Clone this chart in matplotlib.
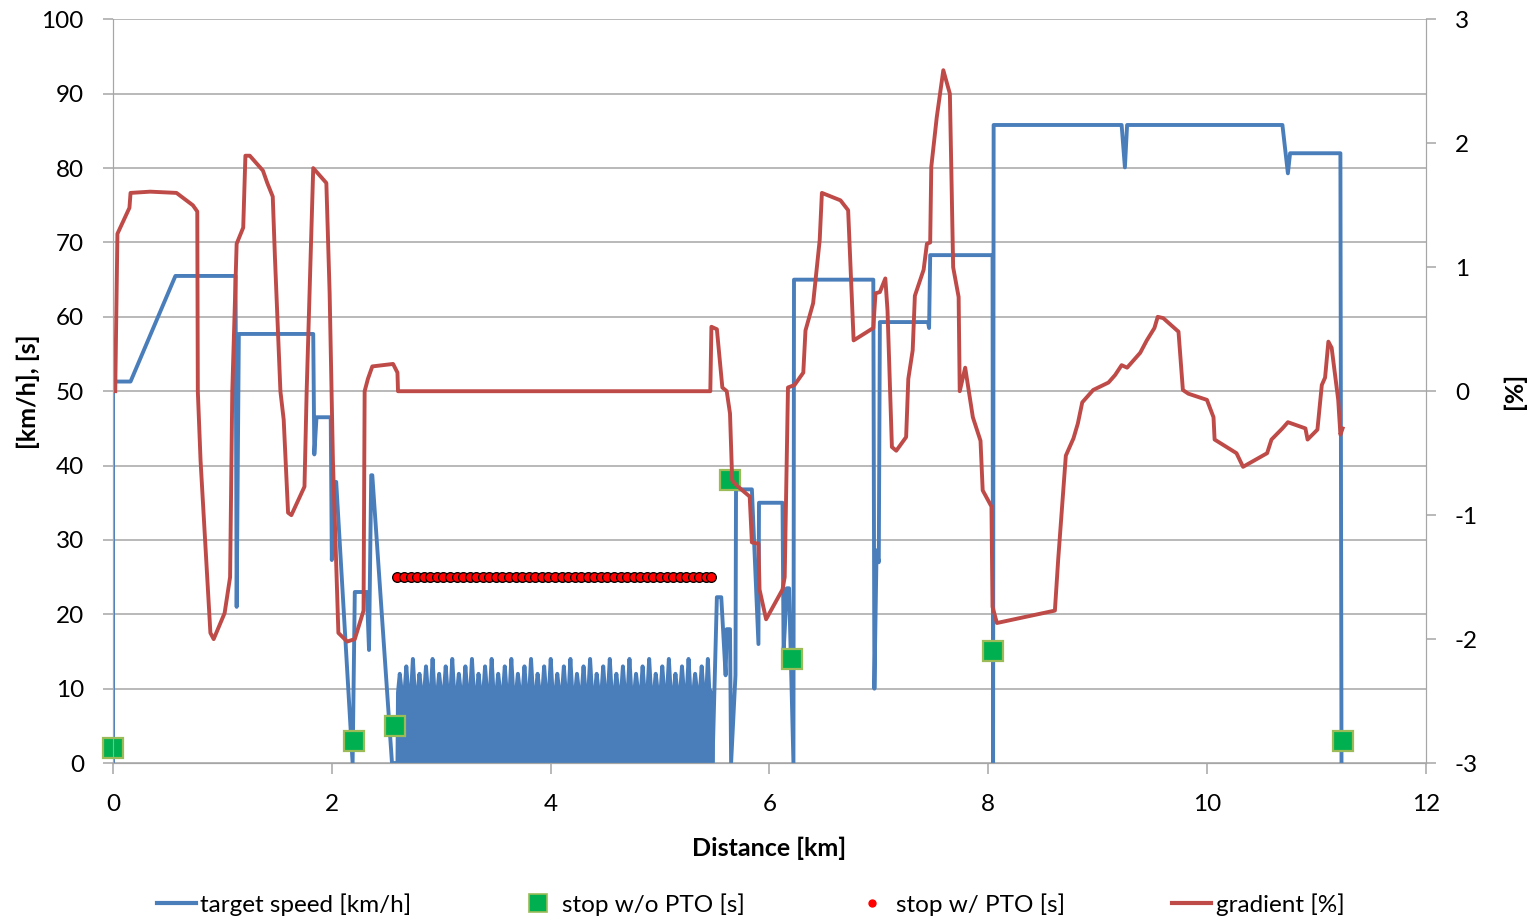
import matplotlib.pyplot as plt
from matplotlib.lines import Line2D
import numpy as np

plt.rcParams['font.family'] = ['Lato', 'DejaVu Sans']
plt.rcParams['axes.unicode_minus'] = False

# target speed [km/h] outside the stop-and-go section
speed_x_a = [0.0, 0.0, 0.16, 0.57, 1.12, 1.13, 1.15, 1.83, 1.84, 1.86, 1.99, 2.00, 2.02, 2.04,
             2.19, 2.21, 2.32, 2.34, 2.36, 2.37, 2.55, 2.60]
speed_v_a = [0, 51.3, 51.3, 65.5, 65.5, 21, 57.7, 57.7, 41.5, 46.5, 46.5, 27.3, 37.8, 37.8,
             0, 23, 23, 15.2, 38.7, 38.7, 0, 0]
speed_x_c = [5.48, 5.52, 5.56, 5.60, 5.61, 5.64, 5.65, 5.69, 5.695, 5.84, 5.90, 5.905, 6.12,
             6.13, 6.16, 6.18, 6.22, 6.225, 6.95, 6.96, 6.98, 7.00, 7.01, 7.45, 7.46, 7.47,
             8.04, 8.045, 8.05, 9.22, 9.25, 9.27, 10.69, 10.74, 10.76, 11.22, 11.23]
speed_v_c = [0, 22.3, 22.3, 11.8, 18, 18, 0, 11.8, 36.8, 36.8, 16, 35, 35,
             15, 23.5, 23.5, 0, 65, 65, 10, 28.6, 27, 59.3, 59.3, 58.5, 68.3,
             68.3, 0, 85.8, 85.8, 80.1, 85.8, 85.8, 79.3, 82, 82, 0]

# stop w/ PTO [s] (stop-and-go section)
pto_x = [2.60, 2.66, 2.72, 2.78, 2.84, 2.90, 2.96, 3.02, 3.08, 3.14, 3.20, 3.26, 3.32, 3.38,
         3.44, 3.50, 3.56, 3.62, 3.68, 3.74, 3.80, 3.86, 3.92, 3.98, 4.04, 4.10, 4.16, 4.22,
         4.28, 4.34, 4.40, 4.46, 4.52, 4.58, 4.64, 4.70, 4.76, 4.82, 4.88, 4.94, 5.00, 5.06,
         5.12, 5.18, 5.24, 5.30, 5.36, 5.42, 5.47]
pto_s = [25] * 49
# peak speed between consecutive PTO stops
pto_peak = [12, 13, 14, 12, 13, 14, 12, 13, 14, 12, 13, 14, 12, 13, 14, 12,
            13, 14, 12, 13, 14, 12, 13, 14, 12, 13, 14, 12, 13, 14, 12, 13,
            14, 12, 13, 14, 12, 13, 14, 12, 13, 14, 12, 13, 14, 12, 13, 14]
pto_shoulder = 10

# stop w/o PTO [s]
stop_x = [0.0, 2.20, 2.58, 5.64, 6.21, 8.04, 11.24]
stop_s = [2, 3, 5, 38, 14, 15, 3]

# gradient [%]
grad_x = [0.02, 0.04, 0.15, 0.16, 0.34, 0.58, 0.73, 0.77, 0.775, 0.80, 0.89, 0.92, 1.02, 1.07,
          1.09, 1.13, 1.19, 1.21, 1.25, 1.37, 1.41, 1.46, 1.48, 1.53, 1.56, 1.60, 1.63, 1.75,
          1.77, 1.83, 1.95, 1.98, 2.01, 2.06, 2.14, 2.21, 2.29, 2.30, 2.33, 2.37, 2.56, 2.60,
          2.605, 5.46, 5.47, 5.52, 5.57, 5.61, 5.64, 5.66, 5.70, 5.82, 5.84, 5.90, 5.91, 5.97,
          6.12, 6.14, 6.17, 6.23, 6.31, 6.33, 6.40, 6.46, 6.48, 6.65, 6.72, 6.77, 6.95, 6.97,
          7.01, 7.06, 7.08, 7.12, 7.16, 7.25, 7.27, 7.31, 7.33, 7.41, 7.44, 7.47, 7.48, 7.53,
          7.56, 7.59, 7.65, 7.68, 7.73, 7.74, 7.79, 7.86, 7.93, 7.95, 8.03, 8.04, 8.08, 8.61,
          8.64, 8.71, 8.78, 8.82, 8.86, 8.96, 9.10, 9.16, 9.22, 9.27, 9.39, 9.45, 9.52, 9.55,
          9.60, 9.74, 9.78, 9.83, 10.00, 10.06, 10.07, 10.27, 10.33, 10.55, 10.59, 10.69,
          10.74, 10.90, 10.92, 11.01, 11.05, 11.08, 11.11, 11.14, 11.20, 11.22, 11.24]
grad_v = [0, 1.27, 1.48, 1.6, 1.61, 1.6, 1.5, 1.45, 0, -0.56, -1.95, -2.0, -1.79, -1.5,
          0, 1.19, 1.32, 1.9, 1.9, 1.78, 1.68, 1.57, 1.08, 0, -0.23, -0.98, -1.0, -0.77,
          0, 1.8, 1.68, 0.79, -0.56, -1.95, -2.02, -2.0, -1.77, 0, 0.1, 0.2, 0.22, 0.15,
          0, 0, 0.52, 0.5, 0.03, 0, -0.18, -0.72, -0.76, -0.85, -1.22, -1.23, -1.6, -1.84,
          -1.6, -1.5, 0.03, 0.05, 0.15, 0.49, 0.71, 1.22, 1.6, 1.54, 1.46, 0.41, 0.51, 0.79,
          0.8, 0.91, 0.65, -0.45, -0.48, -0.37, 0.1, 0.33, 0.77, 0.98, 1.19, 1.2, 1.81, 2.21,
          2.4, 2.59, 2.4, 1.0, 0.76, 0, 0.19, -0.21, -0.4, -0.8, -0.93, -1.74, -1.87, -1.77,
          -1.36, -0.52, -0.38, -0.26, -0.09, 0.01, 0.07, 0.13, 0.21, 0.19, 0.31, 0.41, 0.51, 0.6,
          0.59, 0.48, 0.01, -0.02, -0.07, -0.21, -0.39, -0.5, -0.61, -0.5, -0.39, -0.3,
          -0.25, -0.3, -0.39, -0.31, 0.05, 0.11, 0.4, 0.35, -0.07, -0.35, -0.3]

blue = "#4a7ebb"
red = "#be4b48"
green = "#00b050"
grid_c = "#a6a6a6"

# build stop-and-go speed trace from the PTO stops
osc_x, osc_v = [], []
for i in range(len(pto_peak)):
    x0, x1 = pto_x[i], pto_x[i + 1]
    d = x1 - x0
    osc_x += [x0, x0 + 0.08 * d, x0 + 0.35 * d, x0 + 0.6 * d, x1 - 0.08 * d]
    osc_v += [0, pto_shoulder - 0.5, pto_peak[i], pto_shoulder, pto_shoulder - 0.5]
osc_x += [pto_x[-1] + 0.01]
osc_v += [0]

speed_x = speed_x_a + osc_x + speed_x_c
speed_v = speed_v_a + osc_v + speed_v_c

fig, ax = plt.subplots(figsize=(15.38, 9.23), dpi=100)
fig.subplots_adjust(left=0.0735, right=0.927, top=0.979, bottom=0.1733)
ax2 = ax.twinx()

ax.fill_between(osc_x, 0, osc_v, color=blue, lw=0)
ax.plot(speed_x, speed_v, color=blue, lw=2.8, solid_joinstyle='round')
ax.plot(stop_x, stop_s, ls='none', marker='s', markersize=15, markerfacecolor=green,
        markeredgecolor="#9bbb59", markeredgewidth=1.6, clip_on=False, zorder=4)
ax.plot(pto_x, pto_s, ls='none', marker='o', markersize=7, markerfacecolor="#ff0000",
        markeredgecolor="black", markeredgewidth=0.9, zorder=4)
ax2.plot(grad_x, grad_v, color=red, lw=2.8, solid_joinstyle='round')

ax.set_xlim(0, 12)
ax.set_ylim(0, 100)
ax2.set_ylim(-3, 3)
ax.set_xticks(range(0, 13, 2))
ax.set_yticks(range(0, 101, 10))
ax2.set_yticks(range(-3, 4))

ax.grid(axis='y', color=grid_c, lw=1.1)
ax.set_axisbelow(True)
for a in (ax, ax2):
    for s in a.spines.values():
        s.set_color(grid_c)
    a.spines['top'].set_visible(False)
    a.tick_params(colors=grid_c, labelcolor='black', labelsize=17.5, length=7, width=1.1,
                  pad=14)
ax.tick_params(axis='x', length=8, pad=14)

ax.set_xlabel("Distance [km]", fontsize=18, fontweight='bold', labelpad=16)
ax.set_ylabel("[km/h], [s]", fontsize=18, fontweight='bold', labelpad=1)
ax2.set_ylabel("[%]", fontsize=18, fontweight='bold', rotation=90, labelpad=18)

handles = [
    Line2D([], [], color=blue, lw=3),
    Line2D([], [], ls='none', marker='s', markersize=13, markerfacecolor=green,
           markeredgecolor="#9bbb59", markeredgewidth=1.2),
    Line2D([], [], ls='none', marker='o', markersize=5, markerfacecolor="#ff0000",
           markeredgecolor="#ff0000"),
    Line2D([], [], color=red, lw=3),
]
labels = ["target speed [km/h]", "stop w/o PTO [s]", "stop w/ PTO [s]", "gradient [%]"]
fig.legend(handles, labels, loc='lower center', bbox_to_anchor=(0.488, -0.016), ncol=4,
           frameon=False, fontsize=17.5, handlelength=1.6, handletextpad=0.2,
           columnspacing=4.4)

fig.savefig("out.png", dpi=100)
